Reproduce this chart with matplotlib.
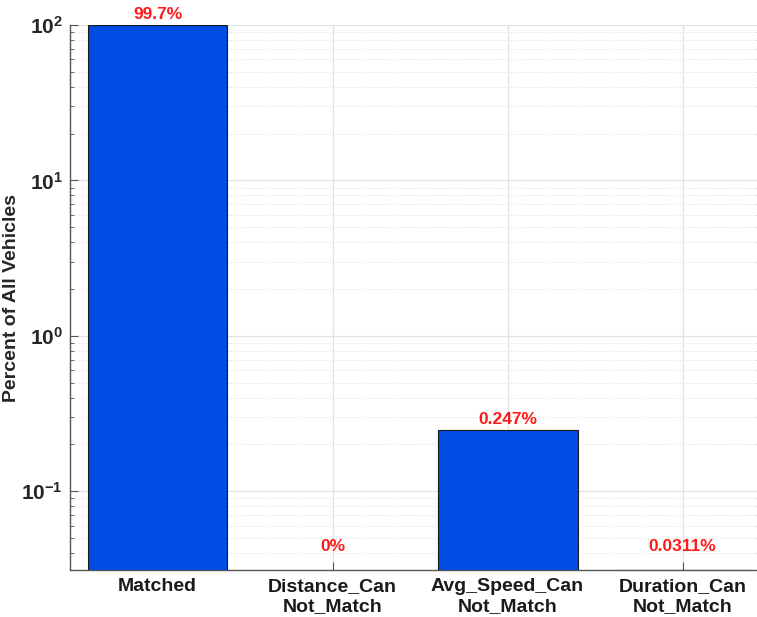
import numpy as np
import matplotlib.pyplot as plt
from matplotlib.ticker import FuncFormatter, LogLocator

# data
categories = ['Matched', 'Distance_Can\nNot_Match', 'Avg_Speed_Can\nNot_Match', 'Duration_Can\nNot_Match']
percent = [99.7, 0.0, 0.247, 0.0311]
labels = ['99.7%', '0%', '0.247%', '0.0311%']

plt.rcParams['font.family'] = ['Liberation Sans', 'DejaVu Sans']
plt.rcParams['font.weight'] = 'bold'
plt.rcParams['mathtext.fontset'] = 'custom'
plt.rcParams['mathtext.bf'] = 'Liberation Sans:bold'
plt.rcParams['mathtext.rm'] = 'Liberation Sans:bold'

fig = plt.figure(figsize=(7.57, 6.17), dpi=100)
W, H = 757, 617
ax = fig.add_axes([70 / W, (H - 570) / H, 700 / W, 545 / H])

x = np.arange(1, len(categories) + 1)
ymin = 0.0311
bar_vals = [v if v > 0 else np.nan for v in percent]
ax.bar(x, bar_vals, width=0.8, color='#004DE3', edgecolor='#1a1a1a', linewidth=0.8, zorder=3)

ax.set_yscale('log')
ax.set_ylim(ymin, 100)
ax.set_xlim(0.5, 4.5)

# value labels above each bar (zero values sit near the floor)
for xi, v, lab in zip(x, percent, labels):
    y = max(v, ymin * 1.2) * 1.1
    ax.text(xi, y, lab, ha='center', va='baseline', color='#ff1a1a',
            fontsize=12.5, fontweight='bold', zorder=4)

ax.yaxis.set_major_locator(LogLocator(base=10, numticks=10))
ax.yaxis.set_minor_locator(LogLocator(base=10, subs=np.arange(2, 10), numticks=10))
ax.yaxis.set_major_formatter(FuncFormatter(lambda v, p: r'$\mathbf{10^{%d}}$' % round(np.log10(v))))

ax.set_xticks(x)
ax.set_xticklabels(categories, fontsize=14, fontweight='bold', color='#1a1a1a', linespacing=1.2)
ax.tick_params(axis='y', labelsize=15, colors='#333333', labelcolor='#262626')
ax.tick_params(axis='both', which='both', direction='in', color='#555555')
ax.tick_params(axis='y', which='major', length=6, pad=5)
ax.tick_params(axis='y', which='minor', length=3)
ax.tick_params(axis='x', which='major', length=6, pad=6)

ax.grid(True, which='major', axis='both', color='#e2e2e2', linewidth=0.9, zorder=0)
ax.grid(True, which='minor', axis='y', color='#dadada', linestyle=(0, (1, 2)), linewidth=0.7, zorder=0)
ax.set_axisbelow(True)

ax.spines['top'].set_visible(False)
ax.spines['right'].set_visible(False)
for s in ['left', 'bottom']:
    ax.spines[s].set_color('#555555')
    ax.spines[s].set_linewidth(1.0)

ax.set_ylabel('Percent of All Vehicles', fontsize=14, fontweight='bold', color='#262626')
ax.yaxis.set_label_coords(-50 / 700, 0.5)

fig.savefig('out.png', dpi=100)
